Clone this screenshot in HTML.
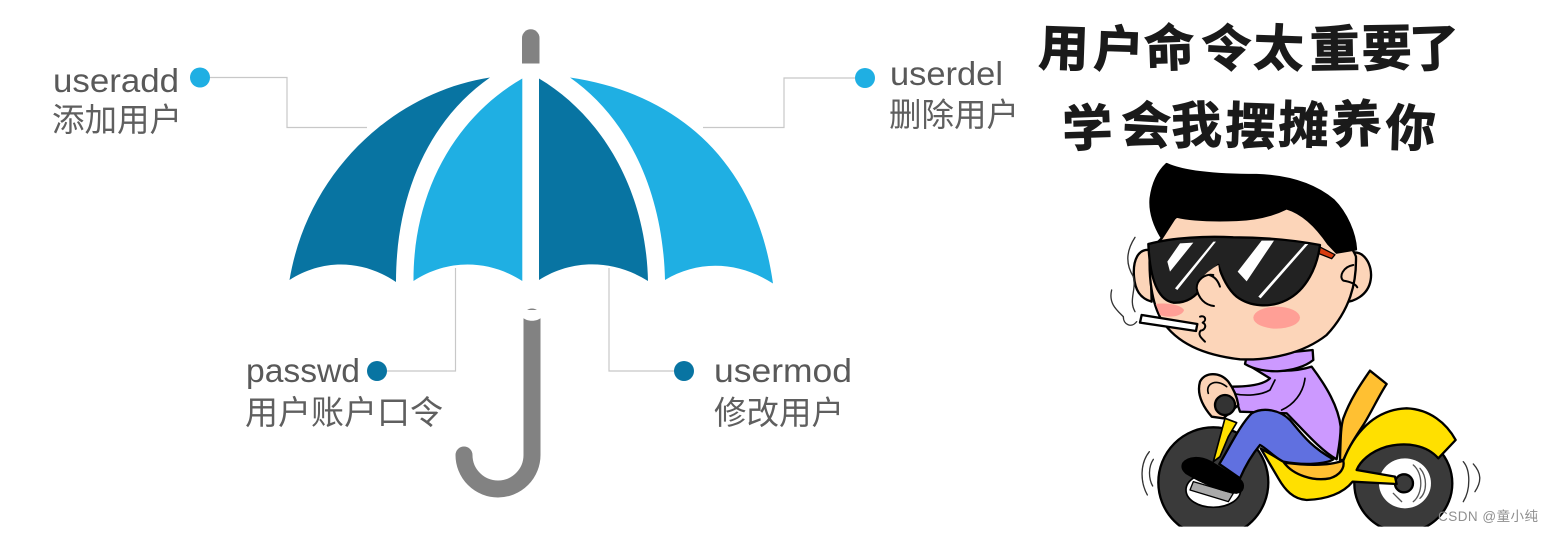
<!DOCTYPE html>
<html>
<head>
<meta charset="utf-8">
<style>
html,body{margin:0;padding:0;background:#fff;width:1554px;height:533px;overflow:hidden}
svg{display:block}
.lbl{font-family:"Liberation Sans","Noto Sans CJK SC",sans-serif;font-size:33px;fill:#595959}
.cn{font-family:"Noto Sans CJK SC","Liberation Sans",sans-serif;font-size:32.5px;fill:#5f5f5f;font-weight:400}
.t{font-family:"Noto Sans CJK SC","WenQuanYi Zen Hei",sans-serif;font-size:50px;font-weight:700;fill:#1a1a1a;stroke:#1a1a1a;stroke-width:1;text-anchor:middle}
</style>
</head>
<body>
<svg width="1554" height="533" viewBox="0 0 1554 533" xmlns="http://www.w3.org/2000/svg">
<rect width="1554" height="533" fill="#fff"/>

<!-- connectors -->
<g fill="none" stroke="#c8c8c8" stroke-width="1.2">
<path d="M200 77.5H287V127.5H367"/>
<path d="M865 78H784V127.5H703"/>
<path d="M377 371H455.5V268"/>
<path d="M684 371H609V268"/>
</g>
<circle cx="200" cy="77.5" r="10" fill="#1fafe3"/>
<circle cx="865" cy="78" r="10" fill="#1fafe3"/>
<circle cx="377" cy="371" r="10" fill="#0874a2"/>
<circle cx="684" cy="371" r="10" fill="#0874a2"/>

<!-- umbrella -->
<path d="M289.5 280C308 170 395 92 490 77.5C432 118 396 190 396 282C362 259 322 259 289.5 280Z" fill="#0874a2"/>
<path d="M522.3 78.5C457 116 413 190 413.5 281C447 259 488 259 522.3 281Z" fill="#1fafe3"/>
<path d="M539 78.5C602 116 646 190 648 281C613 259 572 259 539 280Z" fill="#0874a2"/>
<path d="M570 77.5C670 92 755 155 773 283.5C738 261 698 260 665 280C663 192 628 118 570 77.5Z" fill="#1fafe3"/>

<!-- handle -->
<path d="M522 63.5V38a8.7 8.7 0 0 1 17.5 0V63.5Z" fill="#828282"/>
<path d="M532 317V455A34 34 0 0 1 464 455" fill="none" stroke="#828282" stroke-width="17" stroke-linecap="round"/>
<path d="M532 316V455" stroke="#828282" stroke-width="17" fill="none"/>
<path d="M522 310h20v7c-5 5-15 5-20 0Z" fill="#fff"/>

<!-- labels -->
<text class="lbl" x="53" y="92" textLength="126" lengthAdjust="spacingAndGlyphs">useradd</text>
<text class="cn" x="52" y="131">添加用户</text>
<text class="lbl" x="890" y="85" textLength="113" lengthAdjust="spacingAndGlyphs">userdel</text>
<text class="cn" x="889" y="126">删除用户</text>
<text class="lbl" x="246" y="382" textLength="114" lengthAdjust="spacingAndGlyphs">passwd</text>
<text class="cn" x="245" y="424" style="font-size:33px">用户账户口令</text>
<text class="lbl" x="714" y="382" textLength="138" lengthAdjust="spacingAndGlyphs">usermod</text>
<text class="cn" x="714" y="424">修改用户</text>

<!-- title -->
<text class="t" transform="translate(1063,66) rotate(2)">用</text>
<text class="t" transform="translate(1118,67) rotate(2)">户</text>
<text class="t" transform="translate(1170,66) rotate(-2)">命</text>
<text class="t" transform="translate(1225,66) rotate(3)">令</text>
<text class="t" transform="translate(1278,66) rotate(2)">太</text>
<text class="t" transform="translate(1335,67) rotate(-1)">重</text>
<text class="t" transform="translate(1387,66) rotate(-1)">要</text>
<text class="t" transform="translate(1435,66) rotate(-2)">了</text>
<text class="t" transform="translate(1088,146) rotate(-2)">学</text>
<text class="t" transform="translate(1145,143) rotate(3)">会</text>
<text class="t" transform="translate(1197,143) rotate(-2)">我</text>
<text class="t" transform="translate(1250,144) rotate(2)">摆</text>
<text class="t" transform="translate(1303,143) rotate(2)">摊</text>
<text class="t" transform="translate(1357,142) rotate(-2)">养</text>
<text class="t" transform="translate(1410,146) rotate(2)">你</text>

<defs><clipPath id="cb"><rect x="-100" y="-100" width="1500" height="630"/></clipPath></defs>

<!-- bike + body -->
<g transform="translate(1130,350) scale(.3333)" stroke="#000" stroke-width="7" stroke-linejoin="round" stroke-linecap="round">
<g clip-path="url(#cb)">
<circle cx="250" cy="397" r="165" fill="#3a3a3a"/>
<ellipse cx="250" cy="420" rx="82" ry="52" fill="#fff" stroke-width="5"/>
<path d="M190 395L310 430L295 455L180 420Z" fill="#aaa" stroke-width="4"/>
<circle cx="820" cy="400" r="147" fill="#3a3a3a"/>
<ellipse cx="825" cy="400" rx="78" ry="75" fill="#fff" stroke="none"/>
<path d="M850 345C880 370 880 430 850 455M870 355C892 380 892 425 870 445M790 430L815 455" fill="none" stroke-width="4" stroke="#555"/>
</g>
<circle cx="822" cy="400" r="27" fill="#3a3a3a"/>
<!-- speed lines -->
<path d="M58 305C30 340 30 395 52 435M70 328C55 350 55 385 68 408M1000 335C1022 360 1022 420 1000 455M1030 342C1055 370 1055 395 1035 425" fill="none" stroke="#333" stroke-width="4"/>
<!-- seat back -->
<path d="M720 62L770 102C745 140 725 185 700 225C680 255 660 285 640 330L630 330C632 270 632 230 640 205C660 150 690 105 720 62Z" fill="#ffc032"/>
<!-- torso -->
<path d="M350 42C420 70 500 65 545 50C590 110 625 170 632 230C632 270 625 300 620 328C570 300 520 240 470 190L330 185L305 110C350 110 400 105 420 85Z" fill="#cc99ff"/>
<path d="M345 42C400 75 500 70 550 30L548 0L350 20Z" fill="#cc99ff"/>
<path d="M525 85C520 130 490 165 455 180M305 130C350 140 395 135 420 120L435 90" fill="none" stroke-width="5"/>
<!-- frame -->
<path d="M640 332C670 255 730 178 830 175C900 178 950 220 977 270L925 325C890 285 830 275 770 290C720 305 690 335 680 360L795 380L800 402L668 395C640 430 590 448 530 450C490 448 465 420 445 385L392 295L460 335L600 345Z" fill="#ffe000"/>
<!-- lower seat -->
<path d="M462 338C520 345 590 350 640 332C645 355 630 375 600 385C550 395 490 375 462 338Z" fill="#ffc032"/>
<!-- fork -->
<path d="M250 335L285 205L320 218L295 260L270 320Z" fill="#ffe000" stroke-width="5"/>
<!-- leg -->
<path d="M268 342C300 290 330 225 365 190C400 170 450 180 480 210C510 245 540 290 610 328C590 340 530 348 460 335C430 320 410 295 390 285C365 315 345 350 330 385Z" fill="#6070e0"/>
<!-- shoe -->
<path d="M160 340C175 320 210 320 240 335L330 390C345 405 340 425 320 428C280 425 210 395 170 370C158 360 155 350 160 340Z" fill="#000"/>
<!-- hand -->
<path d="M245 200C215 165 200 130 210 95C225 65 270 65 295 95C310 115 320 135 325 165L280 205Z" fill="#fcd3b6"/>
<path d="M235 130C225 100 260 85 290 110" fill="none" stroke-width="5"/>
<circle cx="285" cy="165" r="30" fill="#333"/>
</g>

<!-- head -->
<g transform="translate(1090,150) scale(.3333)" stroke="#000" stroke-width="7" stroke-linejoin="round" stroke-linecap="round">
<!-- ears -->
<path d="M180 300C145 295 128 330 132 380C135 420 150 445 185 455Z" fill="#fcd5b9"/>
<path d="M780 310C820 295 850 345 842 390C835 435 790 460 755 455Z" fill="#fcd5b9"/>
<!-- face -->
<path d="M215 265L260 195L590 170C690 190 780 270 798 320C800 400 780 480 710 555C640 610 540 632 450 628C340 615 260 580 215 510C185 460 175 380 180 300Z" fill="#fcd5b9"/>
<path d="M790 345C760 350 745 380 760 392C780 395 795 400 802 412" fill="none" stroke-width="6"/>
<!-- hair -->
<path d="M230 42C290 70 400 75 500 75C590 78 670 100 730 150C770 190 795 250 798 298L740 308L715 282C680 230 640 190 590 175C550 195 500 208 440 210C380 212 310 212 260 200C240 215 225 240 215 263C195 230 178 190 182 145C188 100 205 65 230 42Z" fill="#000"/>
<!-- temple -->
<path d="M688 290L735 314L725 326L685 310Z" fill="#d83c10" stroke-width="4"/>
<!-- glasses -->
<path d="M175 282C250 262 350 258 430 262C520 262 610 270 690 285C682 350 650 420 590 450C540 475 480 470 440 440C415 420 395 380 385 345C370 365 350 385 335 410C320 440 290 460 250 458C205 450 180 390 175 282Z" fill="#222"/>
<path d="M270 280L310 278L240 365L232 335ZM370 275L378 275L262 420L255 415ZM515 272L552 272L470 394L443 365ZM645 282L655 282L512 445L505 440Z" fill="#fff" stroke="none"/>
<!-- nose -->
<path d="M385 345C360 358 325 385 320 415C325 445 345 465 370 468C385 440 395 410 385 345Z" fill="#fcd5b9" stroke="none"/>
<path d="M370 375C345 370 320 390 320 415C325 445 345 465 372 468M358 375C375 380 385 395 390 410" fill="none" stroke-width="6"/>
<!-- blush -->
<ellipse cx="560" cy="503" rx="70" ry="33" fill="#ff9f96" stroke="none"/>
<path d="M197 462C225 458 270 462 282 480C278 498 240 506 210 495Z" fill="#ff9f96" stroke="none"/>
<!-- cigarette -->
<path d="M155 495L322 522L318 543L150 518Z" fill="#fff"/>
<path d="M330 500C345 495 352 510 338 518C352 525 345 540 332 542C322 555 335 565 345 575" fill="none" stroke-width="6"/>
<!-- smoke -->
<path d="M135 262C110 300 105 340 130 380C140 420 115 450 135 485M65 420C55 460 80 480 100 500C100 525 125 535 140 515" fill="none" stroke="#333" stroke-width="4"/>
</g>

<text x="1438" y="521" font-family="'Liberation Sans','Noto Sans CJK SC',sans-serif" font-size="13.5" fill="#8f8f8f" textLength="100">CSDN @童小纯</text>
</svg>
</body>
</html>
